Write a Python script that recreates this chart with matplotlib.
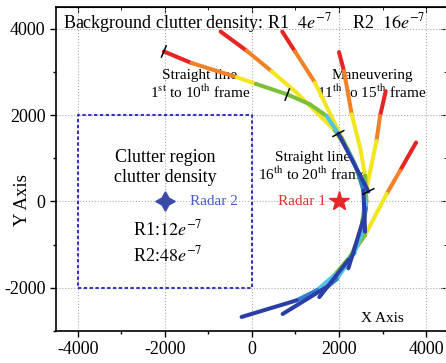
import numpy as np
import matplotlib
matplotlib.use("Agg")
import matplotlib.pyplot as plt

plt.rcParams['font.family'] = ['Liberation Serif', 'DejaVu Serif']
plt.rcParams['mathtext.fontset'] = 'stix'
plt.rcParams['axes.unicode_minus'] = False

# ---- palette for frame-colour bins ----
PAL = {'R': '#e62422', 'O': '#f08228', 'Y': '#f2e620', 'G': '#7cbf3c',
       'C': '#52c4e8', 'B': '#2f80d4', 'D': '#2b3ea6'}

# ---- tracks: waypoints and segment colours ----
trackA_x = [-2023, -1387, -345, 92, 812, 1333, 1717, 1985, 2675]
trackA_y = [3471, 3203, 2874, 2720, 2476, 2246, 1977, 1571, 230]
trackA_c = ['R', 'O', 'Y', 'G', 'G', 'G', 'C', 'D']

trackB_x = [-720, -122, 453, 1028, 1900, 2200, 2450, 2560, 2598]
trackB_y = [3931, 3488, 3012, 2513, 1650, 1200, 650, 253, -705]
trackB_c = ['R', 'O', 'Y', 'Y', 'G', 'C', 'B', 'D']

trackC_x = [697, 989, 1448, 2061, 2350, 2550, 2620, 2580, 2215]
trackC_y = [3931, 3471, 2750, 1479, 900, 300, -150, -350, -1548]
trackC_c = ['R', 'O', 'Y', 'G', 'G', 'C', 'B', 'D']

trackD_x = [2000, 2115, 2292, 2483, 2600, 2630, 2560, 2350, 2215, 1548]
trackD_y = [3456, 3012, 2016, 1248, 600, 0, -650, -1200, -1356, -2215]
trackD_c = ['R', 'O', 'Y', 'Y', 'G', 'G', 'C', 'B', 'D']

trackE_x = [3073, 2943, 2860, 2640, 2600, 2500, 2250, 1950, 1750, 705]
trackE_y = [2552, 1977, 1400, 330, 0, -700, -1350, -1800, -1960, -2606]
trackE_c = ['R', 'O', 'Y', 'Y', 'G', 'G', 'C', 'B', 'D']

trackF_x = [3770, 3402, 3096, 2598, 2253, 1900, 1500, 1028, -238]
trackF_y = [1364, 713, 176, -782, -1279, -1700, -2050, -2290, -2675]
trackF_c = ['R', 'O', 'Y', 'G', 'G', 'C', 'B', 'D']

frame_marks_x = [-2023, 812, 1985, 2675]
frame_marks_y = [3471, 2476, 1571, 230]

clutter_box_x = [-4000, 0]
clutter_box_y = [-2000, 2000]
radar1 = (2000, 0)
radar2 = (-2000, 0)

fig = plt.figure(figsize=(4.46, 3.63), dpi=100)
ax = fig.add_axes([56/446, 1-331/363, (447-56)/446, (331-7)/363])
ax.set_xlim(-4500, 4480)
ax.set_ylim(-3000, 4500)

major_x = [-4000, -2000, 0, 2000, 4000]
major_y = [-2000, 0, 2000, 4000]
ax.set_xticks(major_x)
ax.set_yticks(major_y)
ax.set_xticks(np.arange(-4000, 4001, 1000), minor=True)
ax.set_yticks(np.arange(-3000, 4501, 1000), minor=True)
ax.tick_params(which='both', direction='out', labelsize=13)
ax.tick_params(which='major', length=4, width=1)
ax.tick_params(which='minor', length=2.5, width=1)
for s in ax.spines.values():
    s.set_linewidth(1.2)
ax.grid(True, which='major', linestyle=':', color='#aaaaaa', linewidth=0.8)
ax.set_axisbelow(True)

# inward ticks on top and right
sx = ax.secondary_xaxis('top')
sx.set_xticks(major_x)
sx.set_xticks(np.arange(-4000, 4001, 1000), minor=True)
sx.tick_params(which='both', direction='in', labeltop=False)
sx.tick_params(which='major', length=4)
sx.tick_params(which='minor', length=2.5)
sy = ax.secondary_yaxis('right')
sy.set_yticks(major_y)
sy.set_yticks(np.arange(-3000, 4501, 1000), minor=True)
sy.tick_params(which='both', direction='in', labelright=False)
sy.tick_params(which='major', length=4)
sy.tick_params(which='minor', length=2.5)

# clutter region box
bx = [clutter_box_x[0], clutter_box_x[1], clutter_box_x[1], clutter_box_x[0], clutter_box_x[0]]
by = [clutter_box_y[0], clutter_box_y[0], clutter_box_y[1], clutter_box_y[1], clutter_box_y[0]]
ax.plot(bx, by, color='#3535c0', linestyle=(0, (1.6, 1.2)), linewidth=1.5, zorder=2)

def draw_track(xs, ys, cs, z):
    for i, c in enumerate(cs):
        ax.plot(xs[i:i+2], ys[i:i+2], color=PAL[c], linewidth=2.9,
                solid_capstyle='round', zorder=z)

tracks = [(trackF_x, trackF_y, trackF_c), (trackE_x, trackE_y, trackE_c),
          (trackD_x, trackD_y, trackD_c), (trackC_x, trackC_y, trackC_c),
          (trackB_x, trackB_y, trackB_c), (trackA_x, trackA_y, trackA_c)]
for k, (xs, ys, cs) in enumerate(tracks):
    draw_track(xs, ys, cs, 3 + k * 0.1)

# frame marks (short black ticks across main track)
for mx, my in zip(frame_marks_x, frame_marks_y):
    i = trackA_x.index(mx)
    j0, j1 = max(i-1, 0), min(i+1, len(trackA_x)-1)
    dx = trackA_x[j1] - trackA_x[j0]
    dy = trackA_y[j1] - trackA_y[j0]
    n = np.hypot(dx, dy)
    px, py = -dy/n*140, dx/n*140
    ax.plot([mx-px, mx+px], [my-py, my+py], color='black', linewidth=1.1, zorder=5)

# radars
ax.plot(*radar1, marker='*', markersize=15, color='#e8262a', zorder=6, linestyle='none')
ax.plot(*radar2, marker=(4, 1, 0), markersize=14, color='#3a4aa6', zorder=6, linestyle='none')
ax.text(1690, 0, 'Radar 1', color='#d9352f', fontsize=11, ha='right', va='center')
ax.text(-1430, 0, 'Radar 2', color='#4a5cc4', fontsize=11, ha='left', va='center')

# annotations
ax.text(-4350, 4140, r'Background clutter density: R1  $4e^{-7}$', fontsize=13, ha='left', va='center')
ax.text(2300, 4140, r'R2  $16e^{-7}$', fontsize=13, ha='left', va='center')
ax.text(-1195, 2908, 'Straight line', fontsize=11, ha='center', va='center')
ax.text(-1195, 2516, r'1$^{\rm st}$ to 10$^{\rm th}$ frame', fontsize=11, ha='center', va='center')
ax.text(2759, 2908, 'Maneuvering', fontsize=11, ha='center', va='center')
ax.text(2759, 2516, r'11$^{\rm th}$ to 15$^{\rm th}$ frame', fontsize=11, ha='center', va='center')
ax.text(1402, 1015, 'Straight line', fontsize=11, ha='center', va='center')
ax.text(1402, 623, r'16$^{\rm th}$ to 20$^{\rm th}$ frame', fontsize=11, ha='center', va='center')
ax.text(-2000, 1015, 'Clutter region', fontsize=13, ha='center', va='center')
ax.text(-2000, 554, 'clutter density', fontsize=13, ha='center', va='center')
ax.text(-2736, -646, r'R1:$12e^{-7}$', fontsize=13, ha='left', va='center')
ax.text(-2736, -1246, r'R2:$48e^{-7}$', fontsize=13, ha='left', va='center')
ax.text(2989, -2700, 'X Axis', fontsize=11, ha='center', va='center')
ax.set_ylabel('Y Axis', fontsize=13.5)
ax.yaxis.set_label_coords(-25/391, 0.405)

fig.savefig('out.png', dpi=100)
